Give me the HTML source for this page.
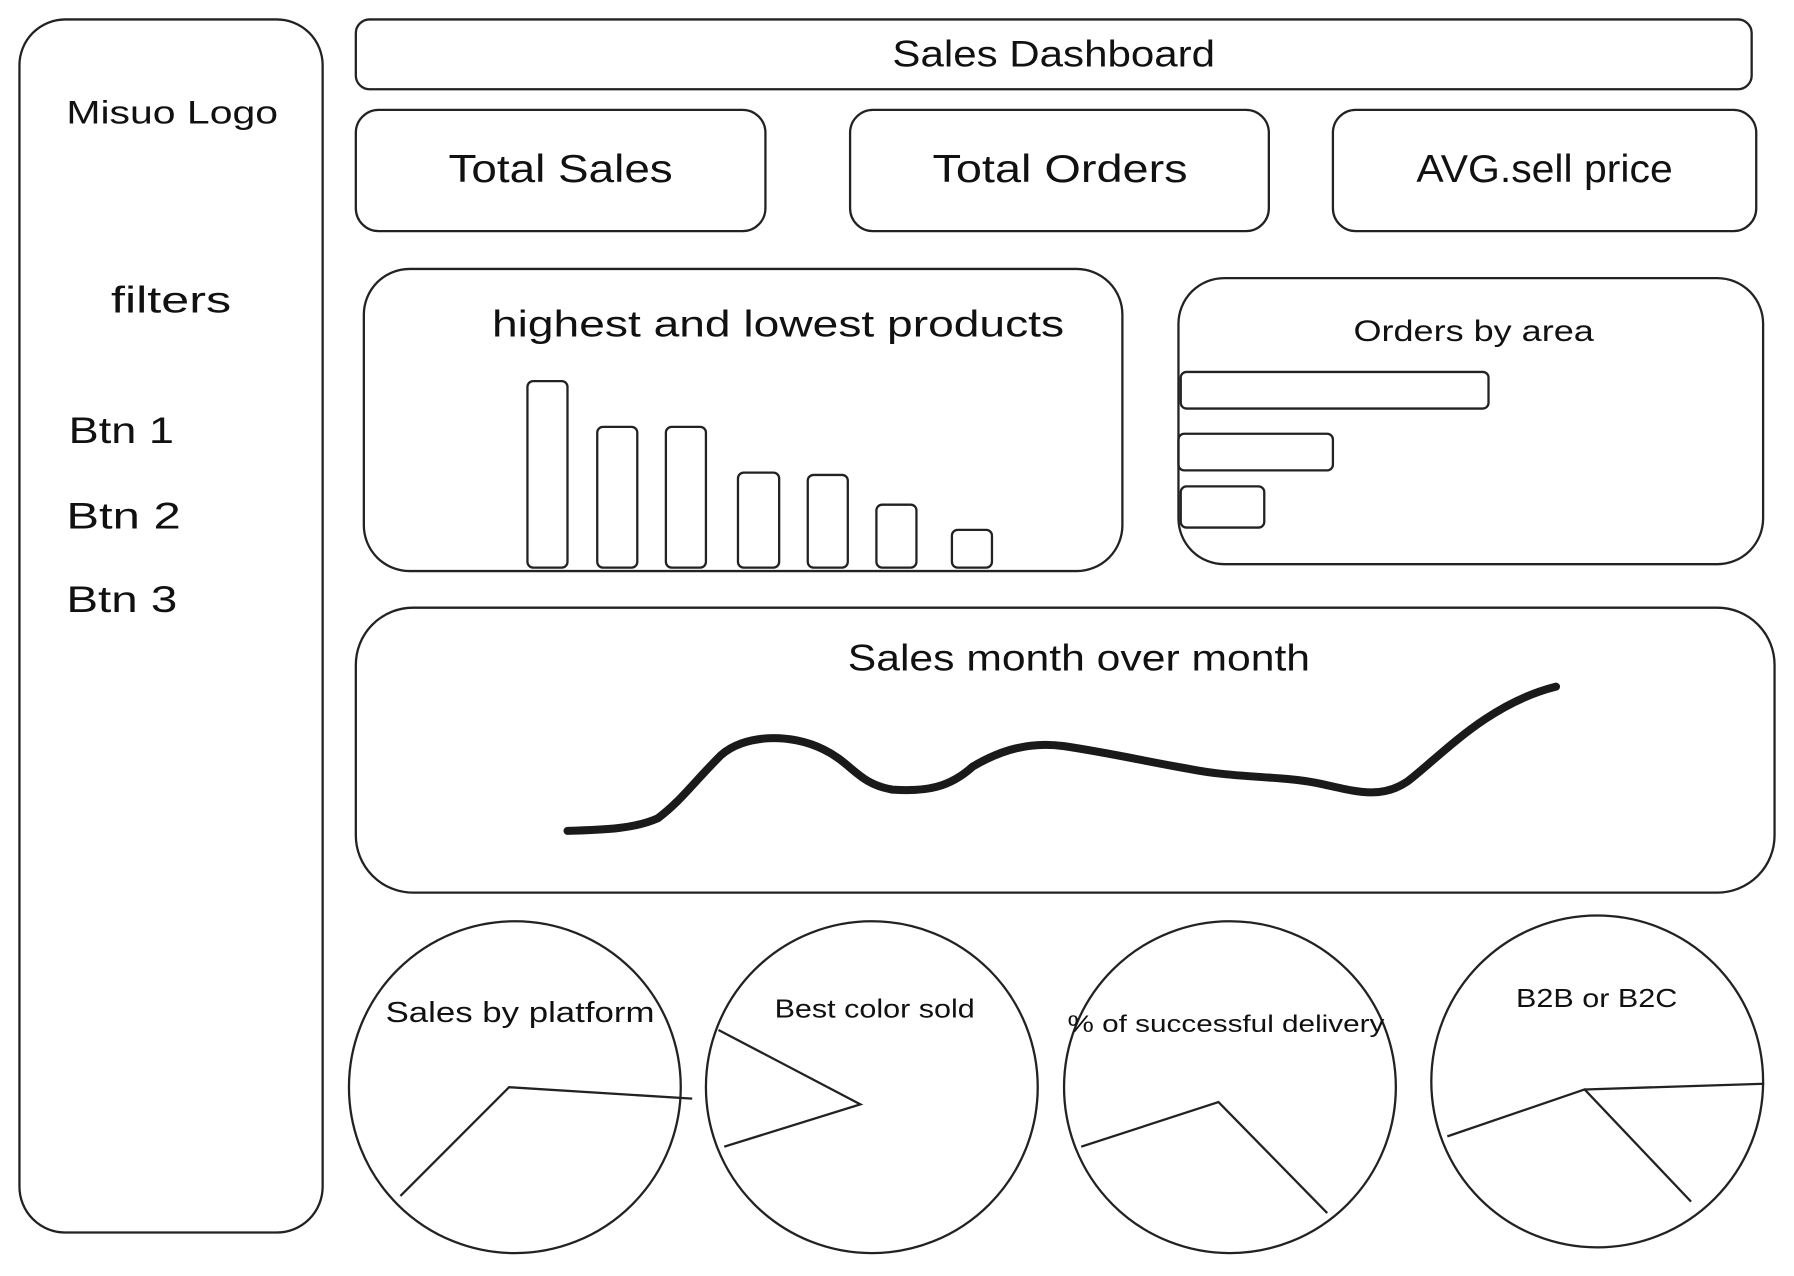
<!DOCTYPE html>
<html><head><meta charset="utf-8"><style>
html,body{margin:0;padding:0;background:#fff;}
svg{display:block;}
text{font-family:"Liberation Sans",sans-serif;fill:#111;}
</style></head><body>
<svg width="1794" height="1276" viewBox="0 0 1568 1115" preserveAspectRatio="none" xmlns="http://www.w3.org/2000/svg">
<g fill="none" stroke="#222" stroke-width="2">
<rect x="17" y="17" width="265" height="1060" rx="40"/>
<rect x="311" y="17" width="1220" height="61" rx="12"/>
<rect x="311" y="96" width="358" height="106" rx="20"/>
<rect x="743" y="96" width="366" height="106" rx="20"/>
<rect x="1165" y="96" width="370" height="106" rx="20"/>
<rect x="318" y="235" width="663" height="264" rx="40"/>
<rect x="461" y="333" width="35" height="163" rx="5"/>
<rect x="522" y="373" width="35" height="123" rx="5"/>
<rect x="582" y="373" width="35" height="123" rx="5"/>
<rect x="645" y="413" width="36" height="83" rx="5"/>
<rect x="706" y="415" width="35" height="81" rx="5"/>
<rect x="766" y="441" width="35" height="55" rx="5"/>
<rect x="832" y="463" width="35" height="33" rx="5"/>
<rect x="1030" y="243" width="511" height="250" rx="40"/>
<rect x="1032" y="325" width="269" height="32" rx="5"/>
<rect x="1030" y="379" width="135" height="32" rx="5"/>
<rect x="1032" y="425" width="73" height="36" rx="5"/>
<rect x="311" y="531" width="1240" height="249" rx="50"/>
<circle cx="450" cy="950" r="145"/>
<circle cx="762" cy="950" r="145"/>
<circle cx="1075" cy="950" r="145"/>
<circle cx="1396" cy="945" r="145"/>
<polyline points="350,1045 445,950 605,960"/>
<polyline points="628,900 752,965 633,1002"/>
<polyline points="945,1002 1065,963 1160,1060"/>
<polyline points="1265,993 1385,952 1478,1050"/>
<line x1="1385" y1="952" x2="1542" y2="947"/>
</g>
<path d="M496,726 C530,725 555,724 575,715 C595,700 605,685 630,660 C650,642 690,640 720,655 C745,667 750,685 780,690 C810,692 830,688 850,670 C875,655 900,648 930,652 C970,658 1000,665 1040,672 C1080,680 1120,678 1150,684 C1180,690 1205,700 1230,683 C1260,660 1300,615 1360,600" fill="none" stroke="#1a1a1a" stroke-width="7" stroke-linecap="round"/>
<g lengthAdjust="spacingAndGlyphs">
<text x="58" y="108" font-size="28" textLength="185" lengthAdjust="spacingAndGlyphs">Misuo Logo</text>
<text x="97" y="273" font-size="32" textLength="105" lengthAdjust="spacingAndGlyphs">filters</text>
<text x="60" y="387" font-size="32" textLength="92" lengthAdjust="spacingAndGlyphs">Btn 1</text>
<text x="58" y="462" font-size="32" textLength="100" lengthAdjust="spacingAndGlyphs">Btn 2</text>
<text x="58" y="535" font-size="32" textLength="97" lengthAdjust="spacingAndGlyphs">Btn 3</text>
<text x="780" y="58" font-size="32" textLength="282" lengthAdjust="spacingAndGlyphs">Sales Dashboard</text>
<text x="392" y="159" font-size="34" textLength="196" lengthAdjust="spacingAndGlyphs">Total Sales</text>
<text x="815" y="159" font-size="34" textLength="223" lengthAdjust="spacingAndGlyphs">Total Orders</text>
<text x="1238" y="159" font-size="34" textLength="224" lengthAdjust="spacingAndGlyphs">AVG.sell price</text>
<text x="430" y="294" font-size="32" textLength="500" lengthAdjust="spacingAndGlyphs">highest  and lowest products</text>
<text x="1183" y="298" font-size="26" textLength="210" lengthAdjust="spacingAndGlyphs">Orders by area</text>
<text x="741" y="586" font-size="32" textLength="404" lengthAdjust="spacingAndGlyphs">Sales month over month</text>
<text x="337" y="893" font-size="25" textLength="235" lengthAdjust="spacingAndGlyphs">Sales by platform</text>
<text x="677" y="889" font-size="23" textLength="175" lengthAdjust="spacingAndGlyphs">Best color sold</text>
<text x="933" y="902" font-size="21" textLength="277" lengthAdjust="spacingAndGlyphs">% of successful delivery</text>
<text x="1325" y="880" font-size="23" textLength="141" lengthAdjust="spacingAndGlyphs">B2B or B2C</text>
</g>
</svg>
</body></html>
